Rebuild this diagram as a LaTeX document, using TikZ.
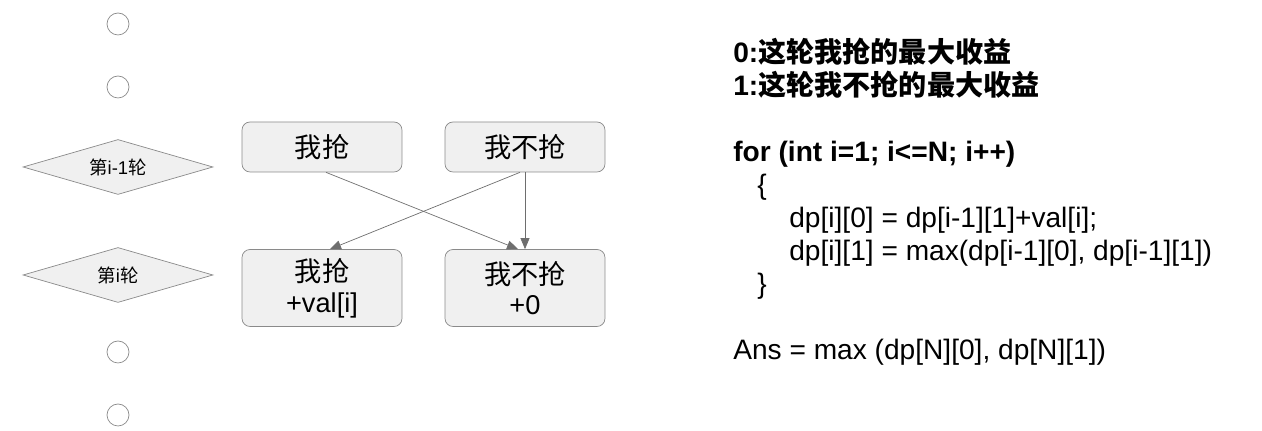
\documentclass[tikz,border=0pt]{standalone}
\usepackage{fontspec}
\setmainfont{Liberation Sans}
\newfontfamily\cjk{Noto Sans CJK SC}
\usetikzlibrary{shapes.geometric,arrows.meta}

\definecolor{boxgray}{HTML}{F0F0F0}
\definecolor{linegray}{HTML}{8A8A8A}
\definecolor{arrowgray}{HTML}{6E6E6E}

\begin{document}
\begin{tikzpicture}[x=0.02cm,y=-0.02cm,
  choice/.style={draw=linegray,fill=boxgray,rounded corners=0.16cm,minimum width=3.2cm,
    align=center,font=\fontsize{15.5}{17.5}\selectfont},
  roundlabel/.style={diamond,draw=linegray,fill=boxgray,aspect=3.45,minimum width=3.8cm,
    minimum height=1.1cm,inner sep=0pt,font=\fontsize{10.5}{12}\selectfont},
  dot/.style={circle,draw=linegray,fill=white,minimum size=0.44cm,inner sep=0pt},
  codeline/.style={anchor=base west,inner sep=0pt,font=\fontsize{16}{19}\selectfont},
  trans/.style={draw=arrowgray,-{Triangle[length=0.22cm,width=0.18cm]}}]
  \useasboundingbox (0,0) rectangle (1262,431);

  % the rounds on the left
  \node[dot] (up2) at (118,24) {};
  \node[dot] (up1) at (118,87) {};
  \node[roundlabel] (prev) at (118,167) {{\cjk 第}i-1{\cjk 轮}};
  \node[roundlabel] (cur) at (118,275) {{\cjk 第}i{\cjk 轮}};
  \node[dot] (down1) at (118,352) {};
  \node[dot] (down2) at (118,415) {};

  % states of the two rounds
  \node[choice,minimum height=1cm] (take0) at (322,147) {\cjk 我抢};
  \node[choice,minimum height=1cm] (skip0) at (525,147) {\cjk 我不抢};
  \node[choice,minimum height=1.54cm] (take1) at (322,288) {{\cjk 我抢}\\+val[i]};
  \node[choice,minimum height=1.54cm] (skip1) at (525,288) {{\cjk 我不抢}\\+0};

  \draw[trans] ([xshift=0.08cm]take0.south) -- ([xshift=-0.14cm]skip1.north);
  \draw[trans] ([xshift=-0.1cm]skip0.south) -- ([xshift=0.16cm]take1.north);
  \draw[trans] (skip0.south) -- (skip1.north);

  % the recurrence
  \node[codeline] (mean0) at (733,63) {\bfseries 0:{\cjk 这轮我抢的最大收益}};
  \node[codeline] (mean1) at (733,96) {\bfseries 1:{\cjk 这轮我不抢的最大收益}};
  \node[codeline] (loop) at (733,162) {\bfseries for (int i=1; i<=N; i++)};
  \node[codeline] (open) at (757,195) {\{};
  \node[codeline] (take) at (789,228) {dp[i][0] = dp[i-1][1]+val[i];};
  \node[codeline] (skip) at (789,261) {dp[i][1] = max(dp[i-1][0], dp[i-1][1])};
  \node[codeline] (close) at (757,294) {\}};
  \node[codeline] (ans) at (733,360) {Ans = max (dp[N][0], dp[N][1])};
\end{tikzpicture}
\end{document}
